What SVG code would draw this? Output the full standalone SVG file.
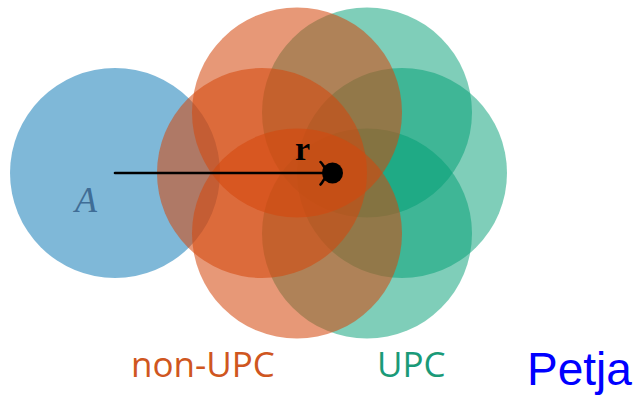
<svg xmlns="http://www.w3.org/2000/svg" width="637" height="395" viewBox="0 0 637 395">
  <style>
    .disk { stroke: none; }
    .blue { fill: #0072B2; fill-opacity: 0.5; }
    .verm { fill: #D4480C; fill-opacity: 0.56; }
    .green { fill: #009E73; fill-opacity: 0.5; }
    .lbl { font-family: "Open Sans", "Liberation Sans", sans-serif; font-size: 35px; }
    .math { font-family: "Liberation Serif", "DejaVu Serif", serif; }
    .edge { stroke: #000; stroke-width: 2.6; fill: none; stroke-linecap: round; }
  </style>
  <rect width="637" height="395" fill="#fff"/>

  <!-- set A -->
  <g id="setA">
    <circle class="disk blue" cx="115" cy="173" r="105"/>
    <text class="math" x="75" y="212" font-size="36" font-style="italic" fill="#3f6d96">A</text>
  </g>

  <!-- UPC neighbourhoods (right half of the hexagon around the point) -->
  <g id="upc">
    <circle class="disk green" cx="367" cy="112.4" r="105"/>
    <circle class="disk green" cx="402" cy="173" r="105"/>
    <circle class="disk green" cx="367" cy="233.6" r="105"/>
  </g>

  <!-- non-UPC neighbourhoods (left half) -->
  <g id="nonupc">
    <circle class="disk verm" cx="297" cy="112.4" r="105"/>
    <circle class="disk verm" cx="262" cy="173" r="105"/>
    <circle class="disk verm" cx="297" cy="233.6" r="105"/>
  </g>

  <!-- displacement vector r, with a curved "to"-style head -->
  <g id="connectors">
    <line class="edge" x1="115" y1="173" x2="330" y2="173"/>
    <path class="edge" d="M320.5,162 C323.5,164 324,170 331,173 C324,176 323.5,182 320.5,184.5"/>
  </g>

  <g id="point">
    <circle cx="332.5" cy="173" r="10.5" fill="#000"/>
    <text class="math" x="295" y="160" font-size="34" font-weight="bold" fill="#000">r</text>
  </g>

  <!-- legend -->
  <g id="legend">
    <text class="lbl" x="131" y="377" fill="#CF5620">non-UPC</text>
    <text class="lbl" x="377" y="377" fill="#1A9A78">UPC</text>
    <text x="527" y="385" font-family="Liberation Sans, Arial, sans-serif" font-size="46" fill="#0000FF">Petja</text>
  </g>
</svg>
